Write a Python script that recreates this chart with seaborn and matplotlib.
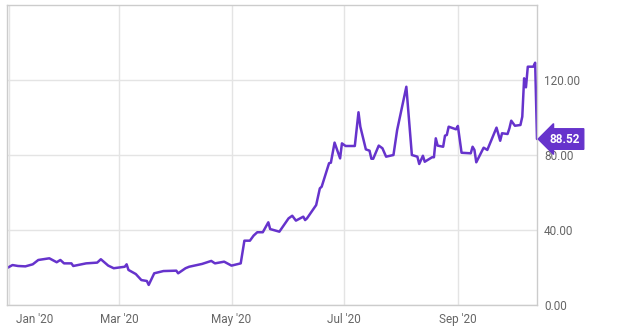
import matplotlib
matplotlib.use("Agg")
import matplotlib.pyplot as plt
import matplotlib.transforms as mtransforms
import seaborn as sns
import pandas as pd

dates = [
    "2019-12-31", "2020-01-03", "2020-01-06", "2020-01-10", "2020-01-14", "2020-01-17",
    "2020-01-23", "2020-01-27", "2020-01-29", "2020-01-31", "2020-02-04", "2020-02-05",
    "2020-02-12", "2020-02-18", "2020-02-20", "2020-02-24", "2020-02-27", "2020-03-04",
    "2020-03-05", "2020-03-06", "2020-03-10", "2020-03-13", "2020-03-16", "2020-03-17",
    "2020-03-20", "2020-03-25", "2020-04-01", "2020-04-02", "2020-04-06", "2020-04-08",
    "2020-04-15", "2020-04-20", "2020-04-22", "2020-04-27", "2020-05-01", "2020-05-06",
    "2020-05-08", "2020-05-11", "2020-05-13", "2020-05-15", "2020-05-18", "2020-05-21",
    "2020-05-22", "2020-05-27", "2020-06-01", "2020-06-03", "2020-06-05", "2020-06-09",
    "2020-06-10", "2020-06-11", "2020-06-16", "2020-06-18", "2020-06-19", "2020-06-23",
    "2020-06-24", "2020-06-26", "2020-06-29", "2020-06-30", "2020-07-02", "2020-07-07",
    "2020-07-09", "2020-07-10", "2020-07-13", "2020-07-15", "2020-07-16", "2020-07-17",
    "2020-07-20", "2020-07-22", "2020-07-24", "2020-07-28", "2020-07-30", "2020-08-04",
    "2020-08-07", "2020-08-10", "2020-08-11", "2020-08-13", "2020-08-14", "2020-08-18",
    "2020-08-19", "2020-08-20", "2020-08-21", "2020-08-24", "2020-08-25", "2020-08-26",
    "2020-08-27", "2020-08-31", "2020-09-01", "2020-09-03", "2020-09-08", "2020-09-09",
    "2020-09-10", "2020-09-11", "2020-09-15", "2020-09-17", "2020-09-22", "2020-09-24",
    "2020-09-25", "2020-09-28", "2020-09-29", "2020-09-30", "2020-10-02", "2020-10-05",
    "2020-10-06", "2020-10-07", "2020-10-08", "2020-10-09", "2020-10-12", "2020-10-13",
    "2020-10-14",
]
prices = [
    19.7, 21.3, 20.8, 20.6, 21.7, 24.0,
    24.9, 22.8, 24.0, 22.2, 22.2, 20.8,
    22.2, 22.6, 24.4, 21.0, 19.6, 20.4,
    21.7, 18.7, 16.5, 13.3, 12.8, 10.7,
    16.9, 18.1, 18.3, 16.9, 19.6, 20.4,
    21.9, 23.5, 22.2, 23.1, 21.0, 22.2,
    34.3, 34.3, 37.0, 38.8, 38.8, 44.1,
    40.5, 39.1, 46.2, 47.6, 45.0, 47.1,
    45.3, 46.2, 53.3, 62.2, 63.1, 75.6,
    75.9, 86.6, 78.2, 86.2, 84.8, 84.8,
    102.8, 95.1, 83.0, 82.3, 78.0, 78.0,
    85.0, 83.6, 79.1, 80.0, 93.3, 116.4,
    80.0, 79.1, 75.2, 79.6, 76.4, 78.8,
    78.8, 88.9, 85.0, 84.4, 90.3, 90.7,
    95.1, 93.7, 95.5, 81.2, 80.9, 84.4,
    82.7, 76.1, 83.9, 82.7, 94.6, 87.6,
    91.6, 91.2, 94.2, 98.3, 95.6, 96.0,
    100.4, 120.9, 116.1, 127.1, 127.1, 129.2,
    88.52,
]
tick_dates = ["2020-01-01", "2020-03-01", "2020-05-01", "2020-07-01", "2020-09-01"]
tick_labels = ["Jan '20", "Mar '20", "May '20", "Jul '20", "Sep '20"]
y_ticks = [0, 40, 80, 120]
last_label = "88.52"

line_color = "#6633cc"

df = pd.DataFrame({"date": pd.to_datetime(dates), "price": prices})

sns.set_theme(style="white")
plt.rcParams["font.family"] = ["Roboto", "DejaVu Sans"]

fig = plt.figure(figsize=(6.25, 3.36), dpi=100)
ax = fig.add_axes([0.0112, 0.0923, 0.8480, 0.8928])

sns.lineplot(data=df, x="date", y="price", ax=ax, color=line_color, linewidth=1.8)

ax.set_xlim(pd.Timestamp("2019-12-31"), pd.Timestamp("2020-10-14"))
ax.set_ylim(0, 160)

ax.set_xticks(pd.to_datetime(tick_dates))
ax.set_xticklabels(tick_labels)
ax.set_yticks(y_ticks)
ax.set_yticklabels([f"{v:.2f}" for v in y_ticks])
ax.yaxis.tick_right()
ax.set_xlabel("")
ax.set_ylabel("")

ax.grid(True, color="#e4e4e4", linewidth=1.0)
ax.set_axisbelow(True)
for s in ax.spines.values():
    s.set_color("#cccccc")
    s.set_linewidth(1.0)
    s.set_visible(True)

ax.tick_params(axis="both", length=0, labelsize=8.5, labelcolor="#666666")
ax.tick_params(axis="x", pad=6)
ax.tick_params(axis="y", pad=5)

# first x label shifted inside
first = ax.get_xticklabels()[0]
first.set_ha("left")
first.set_transform(first.get_transform() + mtransforms.ScaledTranslation(5 / 72, 0, fig.dpi_scale_trans))

# last value label
last_val = df["price"].iloc[-1]
ax.annotate(
    last_label,
    xy=(1.0, last_val), xycoords=("axes fraction", "data"),
    xytext=(9, 0), textcoords="offset points",
    ha="left", va="center", fontsize=8.5, fontweight="bold", color="white",
    bbox=dict(boxstyle="larrow,pad=0.32", fc=line_color, ec=line_color),
    annotation_clip=False,
)

fig.savefig("out.png", dpi=100)
